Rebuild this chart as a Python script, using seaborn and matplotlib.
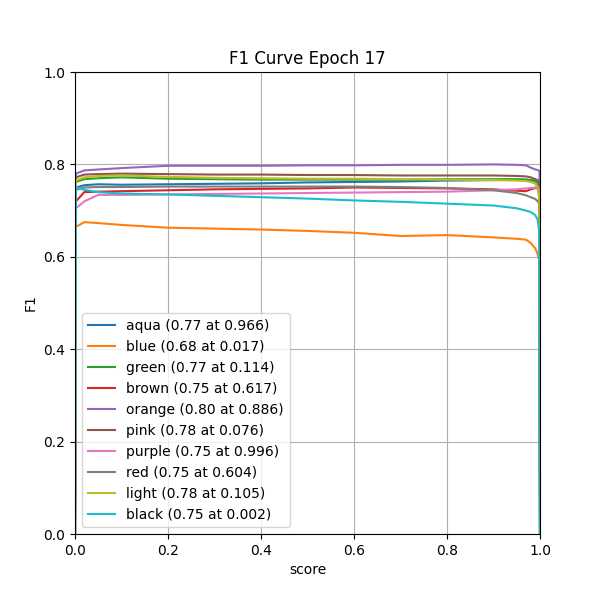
import pandas as pd
import matplotlib
matplotlib.use('Agg')
import matplotlib.pyplot as plt
import seaborn as sns

# score grid (x)
scores = [0, 0.002, 0.02, 0.05, 0.1, 0.2, 0.3, 0.4, 0.5, 0.6, 0.7, 0.8, 0.9,
          0.95, 0.97, 0.98, 0.99, 0.995, 0.999, 1.0]

# F1 values per class
aqua = [0, 0.75, 0.755, 0.757, 0.756, 0.757, 0.758, 0.759, 0.761, 0.762, 0.763, 0.765, 0.766,
        0.767, 0.767, 0.766, 0.764, 0.76, 0.75, 0]
blue = [0, 0.665, 0.675, 0.673, 0.669, 0.663, 0.661, 0.659, 0.656, 0.652, 0.645, 0.647, 0.642,
        0.639, 0.637, 0.63, 0.618, 0.605, 0.59, 0]
green = [0, 0.762, 0.768, 0.77, 0.772, 0.769, 0.768, 0.767, 0.767, 0.767, 0.767, 0.768, 0.768,
         0.768, 0.767, 0.766, 0.764, 0.76, 0.75, 0]
brown = [0, 0.72, 0.74, 0.741, 0.742, 0.744, 0.746, 0.747, 0.748, 0.75, 0.749, 0.748, 0.746,
         0.743, 0.742, 0.746, 0.749, 0.748, 0.745, 0]
orange = [0, 0.78, 0.787, 0.789, 0.792, 0.797, 0.797, 0.797, 0.798, 0.798, 0.799, 0.799, 0.8,
          0.799, 0.798, 0.793, 0.789, 0.788, 0.785, 0]
pink = [0, 0.772, 0.778, 0.779, 0.78, 0.779, 0.778, 0.778, 0.777, 0.777, 0.776, 0.776, 0.776,
        0.775, 0.774, 0.772, 0.768, 0.766, 0.76, 0]
purple = [0, 0.705, 0.72, 0.734, 0.734, 0.735, 0.736, 0.737, 0.738, 0.739, 0.74, 0.741, 0.744,
          0.746, 0.748, 0.749, 0.75, 0.751, 0.745, 0]
red = [0, 0.745, 0.75, 0.751, 0.751, 0.752, 0.752, 0.752, 0.752, 0.752, 0.751, 0.749, 0.744,
       0.738, 0.733, 0.729, 0.725, 0.72, 0.715, 0]
light = [0, 0.765, 0.772, 0.775, 0.776, 0.773, 0.771, 0.77, 0.769, 0.769, 0.768, 0.767, 0.766,
         0.765, 0.764, 0.762, 0.758, 0.75, 0.72, 0]
black = [0, 0.75, 0.745, 0.74, 0.737, 0.735, 0.732, 0.729, 0.726, 0.722, 0.719, 0.715, 0.711,
         0.705, 0.7, 0.697, 0.69, 0.68, 0.65, 0]

labels = ['aqua (0.77 at 0.966)', 'blue (0.68 at 0.017)', 'green (0.77 at 0.114)',
          'brown (0.75 at 0.617)', 'orange (0.80 at 0.886)', 'pink (0.78 at 0.076)',
          'purple (0.75 at 0.996)', 'red (0.75 at 0.604)', 'light (0.78 at 0.105)',
          'black (0.75 at 0.002)']
series = [aqua, blue, green, brown, orange, pink, purple, red, light, black]

fig, ax = plt.subplots(figsize=(6, 6), dpi=100)
palette = sns.color_palette('tab10', 10)

for i, (lab, vals) in enumerate(zip(labels, series)):
    df = pd.DataFrame({'score': scores, 'F1': vals})
    sns.lineplot(data=df, x='score', y='F1', ax=ax, label=lab, color=palette[i],
                 linewidth=1.5, sort=True)

ax.set_xlim(0, 1)
ax.set_ylim(0, 1)
ax.set_title('F1 Curve Epoch 17')
ax.set_xlabel('score')
ax.set_ylabel('F1')
ax.grid(True)
ax.legend(loc='lower left')

plt.savefig('out.png', dpi=100)
